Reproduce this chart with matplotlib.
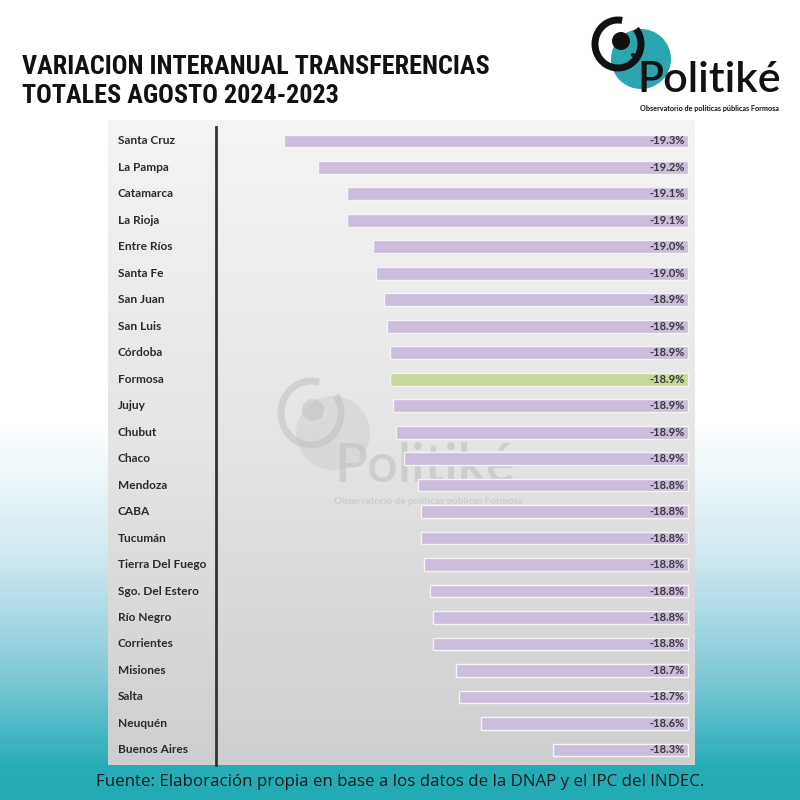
import matplotlib
matplotlib.use("Agg")
import matplotlib.pyplot as plt
import numpy as np
from matplotlib.patches import Circle, Arc
from matplotlib.colors import LinearSegmentedColormap

provincias = ["Santa Cruz", "La Pampa", "Catamarca", "La Rioja", "Entre Ríos",
              "Santa Fe", "San Juan", "San Luis", "Córdoba", "Formosa", "Jujuy",
              "Chubut", "Chaco", "Mendoza", "CABA", "Tucumán", "Tierra Del Fuego",
              "Sgo. Del Estero", "Río Negro", "Corrientes", "Misiones", "Salta",
              "Neuquén", "Buenos Aires"]
variacion = [-19.28, -19.16, -19.06, -19.06, -18.97, -18.96, -18.93, -18.92,
             -18.91, -18.91, -18.90, -18.89, -18.86, -18.81, -18.80, -18.80,
             -18.79, -18.77, -18.76, -18.76, -18.68, -18.67, -18.59, -18.34]
destacada = "Formosa"

titulo = "VARIACION INTERANUAL TRANSFERENCIAS\nTOTALES AGOSTO 2024-2023"
fuente = "Fuente: Elaboración propia en base a los datos de la DNAP y el IPC del INDEC."
marca = "Politiké"
marca_sub = "Observatorio de políticas públicas Formosa"

W = H = 800
fig = plt.figure(figsize=(8, 8), dpi=100)

# fondo en coordenadas de pixel
bg = fig.add_axes([0, 0, 1, 1])
bg.set_xlim(0, W)
bg.set_ylim(H, 0)
bg.axis("off")

grad = LinearSegmentedColormap.from_list(
    "bg", [(0, "#ffffff"), (0.53, "#ffffff"), (0.7, "#cfe8f0"),
           (0.85, "#7fc9d7"), (0.96, "#27adb8"), (1, "#22aab5")])
bg.imshow(np.linspace(0, 1, 400).reshape(-1, 1), cmap=grad, aspect="auto",
          extent=[0, W, H, 0], zorder=0)

# panel gris
panel = LinearSegmentedColormap.from_list(
    "panel", ["#f4f4f4", "#e5e5e5", "#cecece"])
bg.imshow(np.linspace(0, 1, 300).reshape(-1, 1), cmap=panel, aspect="auto",
          extent=[108, 695, 765, 120], zorder=1)

# marca de agua
bg.add_patch(Circle((333, 433), 37, color="#c4c4c4", alpha=0.35, lw=0, zorder=2))
bg.add_patch(Arc((311, 413), 60, 64, theta1=-35, theta2=285, color="#bdbdbd",
                 alpha=0.5, lw=5, zorder=2))
bg.add_patch(Circle((313, 410), 11, color="#bdbdbd", alpha=0.5, lw=0, zorder=2))
bg.text(334, 482, marca, fontsize=39, family="Lato", weight="semibold",
        color="#bdbdbd", alpha=0.55, zorder=2)
bg.text(428, 501, marca_sub, fontsize=7, family="Lato", weight="bold",
        color="#c6c6c6", alpha=0.7, ha="center", va="center", zorder=2)

# logo
bg.add_patch(Circle((641, 59), 30, color="#2ba6ae", lw=0, zorder=3))
bg.add_patch(Arc((618, 44), 46, 48, theta1=-40, theta2=280, color="#111111",
                 lw=5, zorder=4))
bg.add_patch(Circle((621, 41), 9, color="#111111", lw=0, zorder=4))
bg.add_patch(Circle((633, 55), 2, color="#111111", lw=0, zorder=4))
bg.text(637, 92, marca, fontsize=31, family="Lato", weight="semibold",
        color="#111111", zorder=5)
bg.text(709, 108, marca_sub, fontsize=5.2, family="Lato", weight="bold",
        color="#111111", ha="center", va="center", zorder=5)

# titulo y fuente
bg.text(22, 55, titulo, fontsize=18.8, weight="bold", color="#111111",
        family=["Liberation Sans Narrow", "Roboto Condensed", "DejaVu Sans"],
        va="top", linespacing=1.25, zorder=5)
bg.text(400, 782, fuente, fontsize=12.2, family="Open Sans", color="#1a1a1a",
        ha="center", va="center", zorder=5)

# eje vertical
bg.plot([216, 216], [127, 765], color="#333333", lw=2, zorder=5)

# grafico
base = -17.867
ax = fig.add_axes([216 / W, (H - 765) / H, (695 - 216) / W, (765 - 125) / H])
ax.set_facecolor("none")
y = np.arange(len(provincias))
vals = np.array(variacion)
colores = ["#c5d89a" if p == destacada else "#cbbddb" for p in provincias]
ax.barh(y, vals - base, left=base, height=0.48, color=colores,
        edgecolor="#f4f4f4", lw=1)
ax.set_xlim(-19.518, -17.843)
ax.set_ylim(23.57, -0.6)
ax.axis("off")

for i, (p, v) in enumerate(zip(provincias, variacion)):
    ax.text(base - 0.012, i, f"{v:.1f}%", ha="right", va="center", fontsize=8,
            family="Lato", weight="bold", color="#3a3a3a")
    ax.text(-0.205, i, p, transform=ax.get_yaxis_transform(), ha="left",
            va="center", fontsize=8.6, family="Lato", weight="bold",
            color="#2a2a2a")

fig.savefig("out.png", dpi=100)
